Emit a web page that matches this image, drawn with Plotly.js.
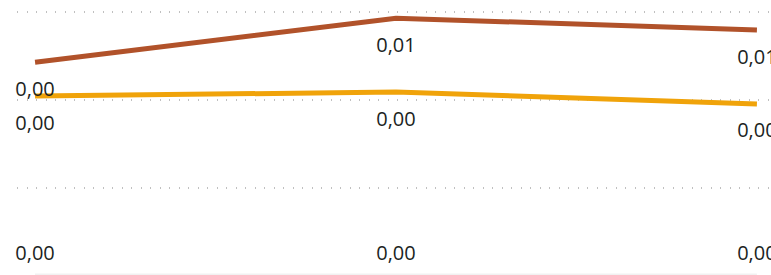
<!DOCTYPE html>
<html>
<head>
<meta charset="utf-8">
<script src="https://cdn.plot.ly/plotly-3.0.1.min.js"></script>
<style>html,body{margin:0;padding:0;background:#fff;overflow:hidden}#chart{width:771px;height:275px;overflow:hidden}</style>
</head>
<body>
<div id="chart"></div>
<script>
// Data
const categories = ["A", "B", "C"];
const seriesBrown = [0.00486, 0.00586, 0.00559];
const seriesOrange = [0.00409, 0.00418, 0.00391];
const seriesGrey = [0, 0, 0];

const xIdx = categories.map((c, i) => i);
const labelFont = {family: "'Segoe UI', 'Open Sans', sans-serif", size: 20, color: "#201f1e"};

function lineTrace(y, color, pos, msize) {
  return {
    x: xIdx, y: y, type: "scatter", mode: "lines+markers+text",
    line: {color: color, width: 5, shape: "linear"},
    marker: {size: msize, opacity: 0, color: color},
    text: y, texttemplate: "%{y:.2f}", textposition: pos,
    textfont: labelFont, cliponaxis: false, hoverinfo: "skip", showlegend: false
  };
}

const data = [
  lineTrace(seriesGrey, "#f1f1f1", "top center", 16),
  lineTrace(seriesOrange, "#F0A30A", "bottom center", 28),
  lineTrace(seriesBrown, "#B1522A", "bottom center", 28)
];

const layout = {
  width: 771, height: 277,
  margin: {l: 17, r: 0, t: 0, b: 0},
  paper_bgcolor: "#ffffff", plot_bgcolor: "#ffffff",
  separators: ",.",
  showlegend: false,
  xaxis: {range: [-0.05, 2.039], showgrid: false, zeroline: false, showticklabels: false, showline: false, ticks: ""},
  yaxis: {range: [-0.0000227, 0.0062727], tick0: 0, dtick: 0.002, showgrid: true,
          gridcolor: "#c0c0c0", gridwidth: 1.4, griddash: "1.4px,8.1px",
          zeroline: false, showticklabels: false, showline: false, ticks: ""}
};

Plotly.newPlot("chart", data, layout, {displayModeBar: false, staticPlot: true});
</script>
</body>
</html>
